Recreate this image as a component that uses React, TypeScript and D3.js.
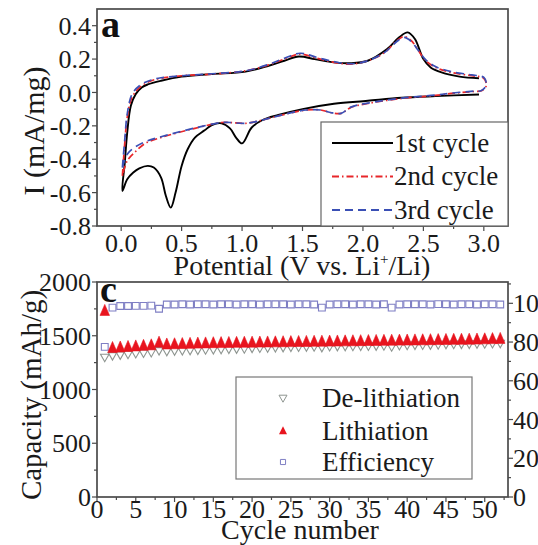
import React from "react";
import * as d3 from "d3";

// ---------- Panel a: CV curves (potential V, current mA/mg) ----------
const cycle1: [number, number][] = [
  [2.96, -0.012], [2.6, -0.022], [2.32, -0.032], [2.04, -0.05], [1.76, -0.068], [1.5, -0.1],
  [1.3, -0.135], [1.17, -0.165], [1.08, -0.21], [1.0, -0.305], [0.95, -0.27], [0.9, -0.215],
  [0.83, -0.185], [0.75, -0.195], [0.69, -0.227], [0.61, -0.27], [0.55, -0.34], [0.5, -0.44],
  [0.45, -0.6], [0.41, -0.69], [0.37, -0.62], [0.33, -0.51], [0.27, -0.45], [0.22, -0.44],
  [0.15, -0.455], [0.1, -0.48], [0.05, -0.52], [0.01, -0.59],
  [0.03, -0.42], [0.05, -0.24], [0.08, -0.08], [0.12, -0.01], [0.17, 0.03], [0.22, 0.048],
  [0.33, 0.07], [0.5, 0.095], [0.75, 0.11], [1.03, 0.125], [1.22, 0.16], [1.35, 0.19],
  [1.47, 0.215], [1.6, 0.2], [1.76, 0.18], [1.9, 0.175], [2.04, 0.19], [2.2, 0.26],
  [2.3, 0.33], [2.37, 0.36], [2.43, 0.32], [2.5, 0.2], [2.56, 0.15], [2.65, 0.12],
  [2.8, 0.095], [2.96, 0.085],
];
const cycle2: [number, number][] = [
  [0.01, -0.5], [0.03, -0.3], [0.05, -0.15], [0.09, -0.03], [0.16, 0.035], [0.25, 0.07],
  [0.33, 0.085], [0.5, 0.1], [0.75, 0.11], [1.03, 0.13], [1.22, 0.165], [1.35, 0.2],
  [1.48, 0.23], [1.62, 0.205], [1.76, 0.18], [1.9, 0.17], [2.04, 0.19], [2.18, 0.24],
  [2.28, 0.31], [2.34, 0.335], [2.4, 0.31], [2.46, 0.25], [2.52, 0.19], [2.6, 0.15],
  [2.73, 0.12], [2.9, 0.1], [3.0, 0.085], [3.02, 0.04], [2.98, 0.01],
  [2.92, 0.006], [2.73, -0.006], [2.6, -0.018], [2.32, -0.036], [2.04, -0.066], [1.9, -0.09],
  [1.82, -0.125], [1.73, -0.12], [1.65, -0.105], [1.53, -0.105], [1.3, -0.14], [1.17, -0.165],
  [1.03, -0.185], [0.9, -0.18], [0.83, -0.18], [0.61, -0.215], [0.33, -0.27], [0.2, -0.305],
  [0.11, -0.36], [0.05, -0.41], [0.01, -0.5],
];
const cycle3: [number, number][] = [
  [0.01, -0.45], [0.03, -0.28], [0.05, -0.13], [0.09, -0.01], [0.16, 0.045], [0.25, 0.075],
  [0.33, 0.088], [0.5, 0.1], [0.75, 0.112], [1.03, 0.13], [1.22, 0.168], [1.35, 0.205],
  [1.48, 0.235], [1.62, 0.21], [1.76, 0.185], [1.9, 0.172], [2.04, 0.19], [2.18, 0.24],
  [2.28, 0.305], [2.34, 0.33], [2.4, 0.305], [2.46, 0.25], [2.52, 0.195], [2.6, 0.155],
  [2.73, 0.125], [2.9, 0.105], [3.0, 0.09], [3.02, 0.045], [2.98, 0.012],
  [2.92, 0.008], [2.73, -0.004], [2.6, -0.016], [2.32, -0.034], [2.04, -0.064], [1.9, -0.088],
  [1.82, -0.125], [1.73, -0.12], [1.65, -0.105], [1.53, -0.105], [1.3, -0.14], [1.17, -0.165],
  [1.03, -0.185], [0.9, -0.18], [0.83, -0.18], [0.61, -0.213], [0.33, -0.265], [0.2, -0.295],
  [0.11, -0.33], [0.05, -0.37], [0.01, -0.45],
];
const cvSeries = [
  { name: "1st cycle", data: cycle1, color: "#000000", dash: "" },
  { name: "2nd cycle", data: cycle2, color: "#e8262a", dash: "7,3,1.5,3" },
  { name: "3rd cycle", data: cycle3, color: "#3a4fb5", dash: "8,5" },
];
const cvXTicks = [0, 0.5, 1.0, 1.5, 2.0, 2.5, 3.0];
const cvYTicks = [-0.8, -0.6, -0.4, -0.2, 0.0, 0.2, 0.4];

// ---------- Panel c: cycling ----------
const cycles = d3.range(1, 53);
const delithiation = [
  1300, 1315, 1322, 1328, 1335, 1340, 1345, 1362, 1355, 1360, 1362, 1365, 1367, 1370, 1372, 1374,
  1376, 1378, 1380, 1385, 1386, 1388, 1390, 1392, 1395, 1396, 1397, 1398, 1392, 1400, 1401, 1402,
  1403, 1404, 1405, 1406, 1407, 1398, 1410, 1412, 1413, 1414, 1415, 1417, 1420, 1421, 1422, 1423,
  1425, 1426, 1428, 1430,
];
const lithiation = [
  1730, 1385, 1390, 1395, 1400, 1405, 1410, 1435, 1418, 1420, 1422, 1424, 1426, 1428, 1430, 1431,
  1432, 1433, 1434, 1435, 1436, 1437, 1438, 1439, 1440, 1441, 1442, 1443, 1444, 1445, 1446, 1447,
  1448, 1449, 1450, 1451, 1452, 1453, 1454, 1455, 1456, 1457, 1458, 1459, 1460, 1461, 1462, 1463,
  1464, 1466, 1468, 1470,
];
const efficiency = [
  77.5, 97.8, 98.6, 98.6, 98.7, 98.7, 98.8, 97.2, 99.4, 99.4, 99.5, 99.4, 99.5, 99.5, 99.4, 99.5,
  99.5, 99.4, 99.5, 99.5, 99.4, 99.5, 99.5, 99.5, 99.4, 99.5, 99.5, 99.4, 97.8, 99.4, 99.5, 99.5,
  99.4, 99.5, 99.5, 99.4, 99.5, 97.8, 99.4, 99.5, 99.5, 99.5, 99.4, 99.6, 99.5, 99.4, 99.5, 99.5,
  99.4, 99.5, 99.5, 99.4,
];
const capYTicks = [0, 500, 1000, 1500, 2000];
const effTicks = [0, 20, 40, 60, 80, 100];
const cycXTicks = d3.range(0, 51, 5);

const FONT = "'Liberation Serif', 'Times New Roman', serif";
const FRAME = "#4a4a4a";

// isosceles triangle path centred on 0,0 (w wide, h tall), pointing up
const triangle = (w: number, h: number) => {
  const p = d3.path();
  p.moveTo(0, -h * 0.6);
  p.lineTo(w / 2, h * 0.4);
  p.lineTo(-w / 2, h * 0.4);
  p.closePath();
  return p.toString();
};

export default function App() {
  // scales panel a
  const xA = d3.scaleLinear().domain([-0.2, 3.2]).range([97, 508]);
  const yA = d3.scaleLinear().domain([-0.8, 0.5]).range([226, 9]);
  // scales panel c
  const xC = d3.scaleLinear().domain([0, 53]).range([97, 508]);
  const yC = d3.scaleLinear().domain([0, 2000]).range([497, 282]);
  const yE = d3.scaleLinear().domain([0, 111]).range([497, 282]);

  const line = d3
    .line<[number, number]>()
    .x((d) => xA(d[0]))
    .y((d) => yA(d[1]))
    .curve(d3.curveCatmullRom.alpha(0.5));

  const sq = d3.symbol().type(d3.symbolSquare);
  const sqPath = (s: number) => sq.size(s)() as string;

  const fmt1 = d3.format(".1f");
  const aMinorX = d3.range(0, 3.01, 0.25);
  const aMinorY = d3.range(-0.8, 0.45, 0.1);
  const cMinorX = d3.range(0, 53, 2.5);
  const cMinorY = d3.range(0, 2001, 250);
  const eMinor = d3.range(0, 111, 10);

  const [ax0, ax1] = xA.range();
  const [ay0, ay1] = yA.range();
  const [cx0, cx1] = xC.range();
  const [cy0, cy1] = yC.range();

  return (
    <div style={{ position: "absolute", left: 0, top: 0 }}>
      <svg width={538} height={545} style={{ display: "block", background: "#fff" }} fontFamily={FONT}>
        <rect width={538} height={545} fill="#fff" />
        {/* ===== Panel a ===== */}
        <g>
          {cvSeries.map((s) => (
            <path
              key={s.name}
              d={line(s.data) as string}
              fill="none"
              stroke={s.color}
              strokeWidth={s.dash ? 1.7 : 1.9}
              strokeDasharray={s.dash || undefined}
            />
          ))}
          <rect x={ax0} y={ay1} width={ax1 - ax0} height={ay0 - ay1} fill="none" stroke={FRAME} strokeWidth={1.7} />
          {aMinorX.map((v) => (
            <line key={"amx" + v} x1={xA(v)} x2={xA(v)} y1={ay0} y2={ay0 + (Math.abs(v * 2 - Math.round(v * 2)) < 1e-6 ? 5 : 3)} stroke={FRAME} strokeWidth={1.2} />
          ))}
          {aMinorY.map((v) => (
            <line key={"amy" + v} x1={ax0} x2={ax0 - (Math.abs(v * 5 - Math.round(v * 5)) < 1e-6 ? 5 : 3)} y1={yA(v)} y2={yA(v)} stroke={FRAME} strokeWidth={1.2} />
          ))}
          {cvXTicks.map((v) => (
            <text key={"axl" + v} x={xA(v)} y={252} textAnchor="middle" fontSize={26} fill="#1a1a1a">
              {fmt1(v)}
            </text>
          ))}
          {cvYTicks.map((v) => (
            <text key={"ayl" + v} x={91} y={yA(v)} dy="0.35em" textAnchor="end" fontSize={26} fill="#1a1a1a">
              {fmt1(v).replace("−", "-")}
            </text>
          ))}
          <text x={302} y={275} textAnchor="middle" fontSize={28} fill="#1a1a1a">
            <tspan>Potential (V vs. Li</tspan>
            <tspan dy={-11} fontSize={15}>+</tspan>
            <tspan dy={11}>/Li)</tspan>
          </text>
          <text transform="translate(44,131) rotate(-90)" textAnchor="middle" fontSize={30} fill="#1a1a1a">
            I (mA/mg)
          </text>
          <text x={101} y={37} fontSize={38} fontWeight="bold" fill="#111">
            a
          </text>
          {/* legend */}
          <rect x={321} y={122} width={ax1 - 321} height={ay0 - 122} fill="#fff" stroke="#666" strokeWidth={1.2} />
          {cvSeries.map((s, i) => (
            <g key={"lg" + s.name}>
              <line x1={332} x2={393} y1={143 + i * 33.5} y2={143 + i * 33.5} stroke={s.color} strokeWidth={1.9} strokeDasharray={s.dash || undefined} />
              <text x={394} y={143 + i * 33.5} dy="0.33em" fontSize={27} fill="#1a1a1a">
                {s.name}
              </text>
            </g>
          ))}
        </g>

        {/* ===== Panel c ===== */}
        <g>
          {cycles.map((c, i) => (
            <path key={"ef" + c} d={sqPath(46)} transform={`translate(${xC(c)},${yE(efficiency[i])})`} fill="#fff" stroke="#7f7fc4" strokeWidth={1.1} />
          ))}
          {cycles.map((c, i) => (
            <path key={"de" + c} d={triangle(8.5, 7.5)} transform={`translate(${xC(c)},${yC(delithiation[i])}) rotate(180)`} fill="#fff" stroke="#8e9590" strokeWidth={1.1} />
          ))}
          {cycles.map((c, i) => (
            <path key={"li" + c} d={triangle(9.5, 11)} transform={`translate(${xC(c)},${yC(lithiation[i])})`} fill="#e8141e" stroke="#e8141e" strokeWidth={0.6} />
          ))}
          <rect x={cx0} y={cy1} width={cx1 - cx0} height={cy0 - cy1} fill="none" stroke={FRAME} strokeWidth={1.7} />
          {cMinorX.map((v) => (
            <line key={"cmx" + v} x1={xC(v)} x2={xC(v)} y1={cy0} y2={cy0 + (v % 5 === 0 ? 5 : 3)} stroke={FRAME} strokeWidth={1.2} />
          ))}
          {cMinorY.map((v) => (
            <line key={"cmy" + v} x1={cx0} x2={cx0 - (v % 500 === 0 ? 5 : 3)} y1={yC(v)} y2={yC(v)} stroke={FRAME} strokeWidth={1.2} />
          ))}
          {eMinor.map((v) => (
            <line key={"emy" + v} x1={cx1} x2={cx1 + (v % 20 === 0 ? 5 : 3)} y1={yE(v)} y2={yE(v)} stroke={FRAME} strokeWidth={1.2} />
          ))}
          {cycXTicks.map((v) => (
            <text key={"cxl" + v} x={xC(v)} y={518} textAnchor="middle" fontSize={26} fill="#1a1a1a">
              {v}
            </text>
          ))}
          {capYTicks.map((v) => (
            <text key={"cyl" + v} x={91} y={yC(v)} dy="0.35em" textAnchor="end" fontSize={26} fill="#1a1a1a">
              {v}
            </text>
          ))}
          {effTicks.map((v) => (
            <text key={"eyl" + v} x={513} y={yE(v)} dy="0.35em" textAnchor="start" fontSize={26} fill="#1a1a1a">
              {v}
            </text>
          ))}
          <text x={300} y={539} textAnchor="middle" fontSize={28} fill="#1a1a1a">
            Cycle number
          </text>
          <text transform="translate(41,395) rotate(-90)" textAnchor="middle" fontSize={29} fill="#1a1a1a">
            Capacity (mAh/g)
          </text>
          <text x={100} y={302} fontSize={38} fontWeight="bold" fill="#111">
            c
          </text>
          {/* legend */}
          <rect x={236} y={377} width={236} height={102} fill="#fff" stroke="#777" strokeWidth={1.2} />
          <path d={triangle(8, 7)} transform="translate(283,398) rotate(180)" fill="#fff" stroke="#8e9590" strokeWidth={1} />
          <path d={triangle(8, 8)} transform="translate(283,431)" fill="#e8141e" />
          <path d={sqPath(26)} transform="translate(283,462)" fill="#fff" stroke="#7f7fc4" strokeWidth={1} />
          <text x={322} y={398} dy="0.33em" fontSize={27} fill="#1a1a1a">De-lithiation</text>
          <text x={322} y={431} dy="0.33em" fontSize={27} fill="#1a1a1a">Lithiation</text>
          <text x={322} y={462} dy="0.33em" fontSize={27} fill="#1a1a1a">Efficiency</text>
        </g>
      </svg>
    </div>
  );
}
